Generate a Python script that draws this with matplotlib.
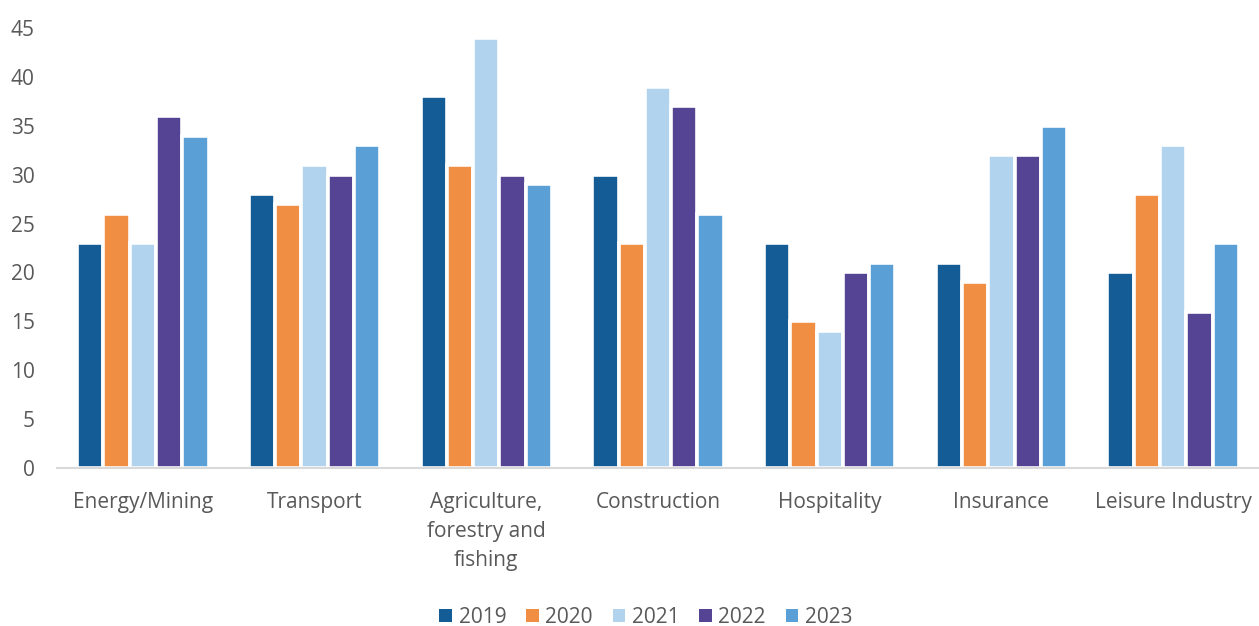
import numpy as np
import matplotlib
matplotlib.use('Agg')
import matplotlib.pyplot as plt
from matplotlib.patches import Patch

# ─── Data ───
sectors = ['Energy/Mining', 'Transport', 'Agriculture,\nforestry and\nfishing',
           'Construction', 'Hospitality', 'Insurance', 'Leisure Industry']
years = ['2019', '2020', '2021', '2022', '2023']
v2019 = [23, 28, 38, 30, 23, 21, 20]
v2020 = [26, 27, 31, 23, 15, 19, 28]
v2021 = [23, 31, 44, 39, 14, 32, 33]
v2022 = [36, 30, 30, 37, 20, 32, 16]
v2023 = [34, 33, 29, 26, 21, 35, 23]
series = [v2019, v2020, v2021, v2022, v2023]
colors = ['#135C96', '#F08E43', '#B1D3EE', '#554494', '#5A9FD6']

plt.rcParams['font.family'] = ['Open Sans', 'DejaVu Sans']
txt_col = '#595959'
fs = 15

fig = plt.figure(figsize=(12.59, 6.26), dpi=100, facecolor='white')
ax = fig.add_axes([0.0453, 0.2524, 0.9547, 0.7029])

x = np.arange(len(sectors))
step = 0.153
for i, (vals, col) in enumerate(zip(series, colors)):
    ax.bar(x + (i - 2) * step, vals, width=step, color=col,
           edgecolor='white', linewidth=2.6, label=years[i])

ax.set_xlim(-0.5, len(sectors) - 0.5)
ax.set_ylim(0, 45)
ax.set_yticks(range(0, 46, 5))
ax.set_xticks(x)
ax.set_xticklabels(sectors, linespacing=1.5)

for s in ['top', 'right', 'left']:
    ax.spines[s].set_visible(False)
ax.spines['bottom'].set_color('#D9D9D9')
ax.spines['bottom'].set_linewidth(1.5)
ax.tick_params(axis='both', length=0, labelsize=fs, colors=txt_col)
ax.tick_params(axis='x', pad=17)
ax.tick_params(axis='y', pad=16)

handles = [Patch(facecolor=c, edgecolor='none') for c in colors]
fig.legend(handles, years, loc='center', bbox_to_anchor=(0.513, 0.014),
           ncol=5, frameon=False, fontsize=fs, handlelength=0.62,
           handleheight=0.62, handletextpad=0.3, columnspacing=0.95,
           labelcolor=txt_col)

fig.savefig('out.png', dpi=100, facecolor='white')
